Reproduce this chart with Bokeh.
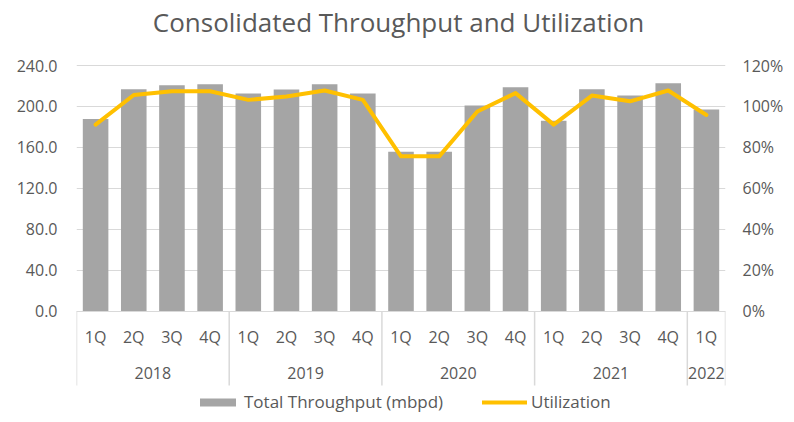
from bokeh.plotting import figure
from bokeh.models import (FactorRange, Range1d, LinearAxis, NumeralTickFormatter,
                          PrintfTickFormatter, FixedTicker, Legend, LegendItem,
                          ColumnDataSource, Label)
from bokeh.core.properties import value
from bokeh.embed import file_html
from bokeh.resources import INLINE

# ---- data ----
title_text = "Consolidated Throughput and Utilization"
years = ["2018"] * 4 + ["2019"] * 4 + ["2020"] * 4 + ["2021"] * 4 + ["2022"]
quarters = ["1Q", "2Q", "3Q", "4Q"] * 4 + ["1Q"]
throughput = [187.8, 216.8, 220.7, 221.7,
              212.6, 216.5, 221.7, 212.6,
              155.8, 155.8, 200.8, 218.8,
              186.1, 216.8, 210.6, 222.7,
              196.9]
utilization = [91.1, 105.6, 107.4, 107.4,
               103.2, 104.8, 107.8, 103.2,
               75.6, 75.6, 97.5, 106.5,
               91.1, 105.3, 102.5, 107.8,
               95.8]
left_ticks = [0, 40, 80, 120, 160, 200, 240]
right_ticks = [0, 20, 40, 60, 80, 100, 120]
group_labels = ["2018", "2019", "2020", "2021", "2022"]

# ---- styling / layout constants (pixels) ----
GRAY_TXT = "#595959"
LINE_GRAY = "#D9D9D9"
FONT = "Open Sans"
W, H = 786, 414
FR_LEFT, FR_RIGHT = 76, 728
TOP_PX, ZERO_PX = 65, 310.5          # pixel rows of the top tick and of zero
VALUE_PX = ZERO_PX - TOP_PX
LMAX, RMAX = left_ticks[-1], right_ticks[-1]
# the frame covers the whole height; value axis span sits inside it
l_end = LMAX + TOP_PX * LMAX / VALUE_PX
l_start = LMAX - (H - TOP_PX) * LMAX / VALUE_PX
r_end = RMAX + TOP_PX * RMAX / VALUE_PX
r_start = RMAX - (H - TOP_PX) * RMAX / VALUE_PX


def below(px):
    """data y (left scale) that lies px pixels below the zero line"""
    return -px * LMAX / VALUE_PX


factors = list(zip(years, quarters))
src = ColumnDataSource(dict(x=factors, tp=throughput, ut=utilization, q=quarters))

p = figure(width=W, height=H, output_backend="svg", toolbar_location=None,
           x_axis_location=None,
           x_range=FactorRange(*factors, range_padding=0, group_padding=0,
                               factor_padding=0, subgroup_padding=0),
           y_range=Range1d(l_start, l_end))
p.extra_y_ranges = {"util": Range1d(r_start, r_end)}
p.outline_line_color = None
p.min_border_left = FR_LEFT
p.min_border_right = W - FR_RIGHT
p.min_border_top = 0
p.min_border_bottom = 0

p.xgrid.grid_line_color = None
p.ygrid.grid_line_color = LINE_GRAY
p.ygrid.grid_line_width = 1

bars = p.vbar(x="x", top="tp", width=0.67, source=src, color="#A5A5A5", line_color=None)
line = p.line(x="x", y="ut", source=src, y_range_name="util", line_color="#FFC000",
              line_width=4, line_join="round", line_cap="round")

# category axis area: separators at group boundaries and frame edges
n = len(years)
bounds = [i for i in range(n) if i == 0 or years[i] != years[i - 1]] + [n]
p.segment(x0=bounds, x1=bounds, y0=[0] * len(bounds), y1=[below(74.5)] * len(bounds),
          line_color=LINE_GRAY, line_width=1.5)
p.text(x="x", y=below(25.5), text="q", source=src, text_align="center",
       text_baseline="middle", text_font=value(FONT), text_font_size="16px",
       text_color=GRAY_TXT)
p.text(x=group_labels, y=[below(62)] * len(group_labels), text=group_labels,
       text_align="center", text_baseline="middle", text_font=value(FONT),
       text_font_size="16px", text_color=GRAY_TXT)

# title
p.add_layout(Label(x=398 - FR_LEFT, y=H - 21, x_units="screen", y_units="screen",
                   text=title_text, text_align="center", text_baseline="alphabetic",
                   text_font=FONT, text_font_size="26px", text_color=GRAY_TXT))

# left axis
ya = p.yaxis[0]
ya.ticker = FixedTicker(ticks=left_ticks)
ya.formatter = NumeralTickFormatter(format="0.0")
ya.axis_line_color = None
ya.major_tick_line_color = None
ya.minor_tick_line_color = None
ya.major_tick_out = 0
ya.major_label_text_font = FONT
ya.major_label_text_font_size = "16px"
ya.major_label_text_color = GRAY_TXT
ya.major_label_standoff = 19

# right axis
ra = LinearAxis(y_range_name="util", ticker=FixedTicker(ticks=right_ticks),
                formatter=PrintfTickFormatter(format="%d%%"))
ra.axis_line_color = None
ra.major_tick_line_color = None
ra.minor_tick_line_color = None
ra.major_tick_out = 0
ra.major_label_text_font = FONT
ra.major_label_text_font_size = "16px"
ra.major_label_text_color = GRAY_TXT
ra.major_label_standoff = 17
p.add_layout(ra, "right")


def make_legend(item, x):
    lg = Legend(items=[item], location=(x, 1), orientation="horizontal")
    lg.label_text_font = FONT
    lg.label_text_font_size = "17px"
    lg.label_text_color = GRAY_TXT
    lg.label_standoff = 4
    lg.glyph_width = 45
    lg.glyph_height = 10
    lg.border_line_color = None
    lg.background_fill_alpha = 0
    lg.margin = 0
    lg.padding = 0
    p.add_layout(lg)


make_legend(LegendItem(label="Total Throughput (mbpd)", renderers=[bars]), 119)
make_legend(LegendItem(label="Utilization", renderers=[line]), 406)

open("out.html", "w").write(file_html(p, INLINE))
